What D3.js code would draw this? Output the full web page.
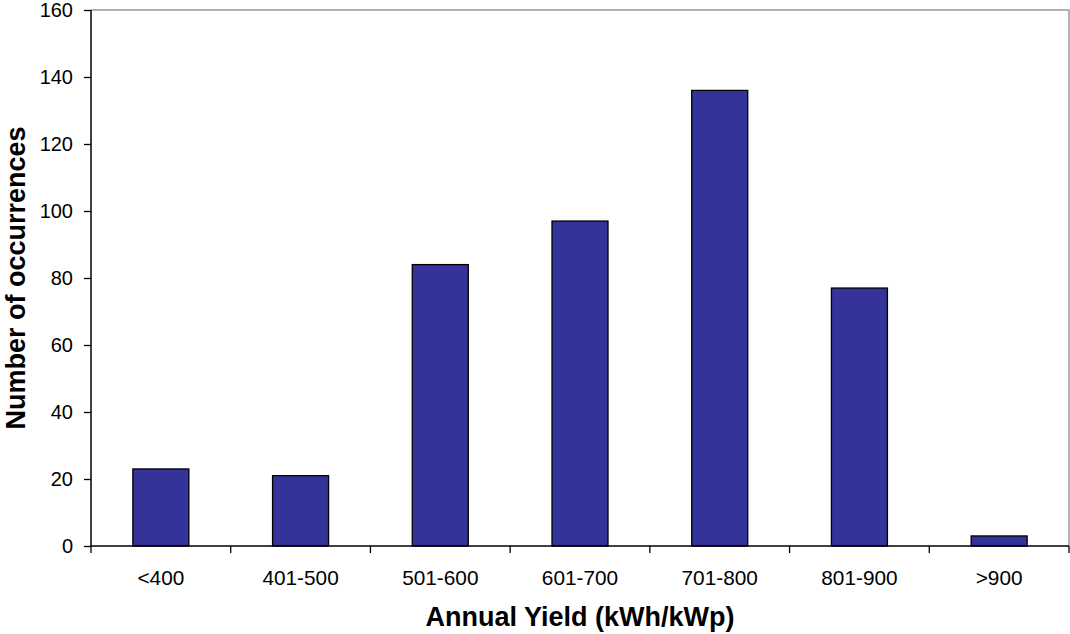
<!DOCTYPE html>
<html><head><meta charset="utf-8">
<script src="https://cdn.jsdelivr.net/npm/d3@7"></script>
<style>body{margin:0;background:#fff}svg{display:block}</style>
</head><body>
<svg id="c" width="1070" height="634"></svg>
<script>
const categories = ["<400","401-500","501-600","601-700","701-800","801-900",">900"];
const counts = [23,21,84,97,136,77,3];
const yTicks = [0,20,40,60,80,100,120,140,160];

const svg = d3.select("#c");
const L=91, R=1069, T=10, B=546;
const xb = d3.scaleBand().domain(categories).range([L,R]);
const y = d3.scaleLinear().domain([0,160]).range([B,T]);

// plot border (top & right)
svg.append("path").attr("d",`M${L},${T}H${R}V${B}`).attr("fill","none").attr("stroke","#999").attr("stroke-width",1.5);

svg.selectAll("rect.bar").data(counts).enter().append("rect")
  .attr("x",(d,i)=>xb(categories[i])+xb.bandwidth()/2-28)
  .attr("width",56)
  .attr("y",d=>y(d)).attr("height",d=>B-y(d))
  .attr("fill","#333399").attr("stroke","#000").attr("stroke-width",1.3);

const font="Arial, 'Liberation Sans', sans-serif";
// y axis
const ya = svg.append("g").attr("transform",`translate(${L},0)`)
  .call(d3.axisLeft(y).tickValues(yTicks).tickSize(7).tickPadding(11));
ya.select(".domain").attr("stroke","#000").attr("stroke-width",1.5).attr("d",`M0,${T}V${B}`);
ya.selectAll(".tick line").attr("stroke","#000").attr("stroke-width",1.3);
ya.selectAll("text").attr("font-family",font).attr("font-size",20).attr("fill","#000");

// x axis
const xa = svg.append("g").attr("transform",`translate(0,${B})`)
  .call(d3.axisBottom(xb).tickSize(0).tickPadding(0));
xa.select(".domain").attr("stroke","#000").attr("stroke-width",1.5).attr("d",`M${L},0H${R}`);
xa.selectAll("text").attr("font-family",font).attr("font-size",20.8).attr("fill","#000")
  .attr("dy",null).attr("y",39);
svg.selectAll("line.xt").data(d3.range(categories.length+1)).enter().append("line")
  .attr("x1",i=>L+i*xb.step()).attr("x2",i=>L+i*xb.step())
  .attr("y1",B).attr("y2",B+7).attr("stroke","#000").attr("stroke-width",1.3);

svg.append("text").attr("x",(L+R)/2).attr("y",626).attr("text-anchor","middle")
  .attr("font-family",font).attr("font-weight","bold").attr("font-size",27).text("Annual Yield (kWh/kWp)");
svg.append("text").attr("transform",`translate(25,${(T+B)/2}) rotate(-90)`).attr("text-anchor","middle")
  .attr("font-family",font).attr("font-weight","bold").attr("font-size",27).text("Number of occurrences");
</script>
</body></html>
